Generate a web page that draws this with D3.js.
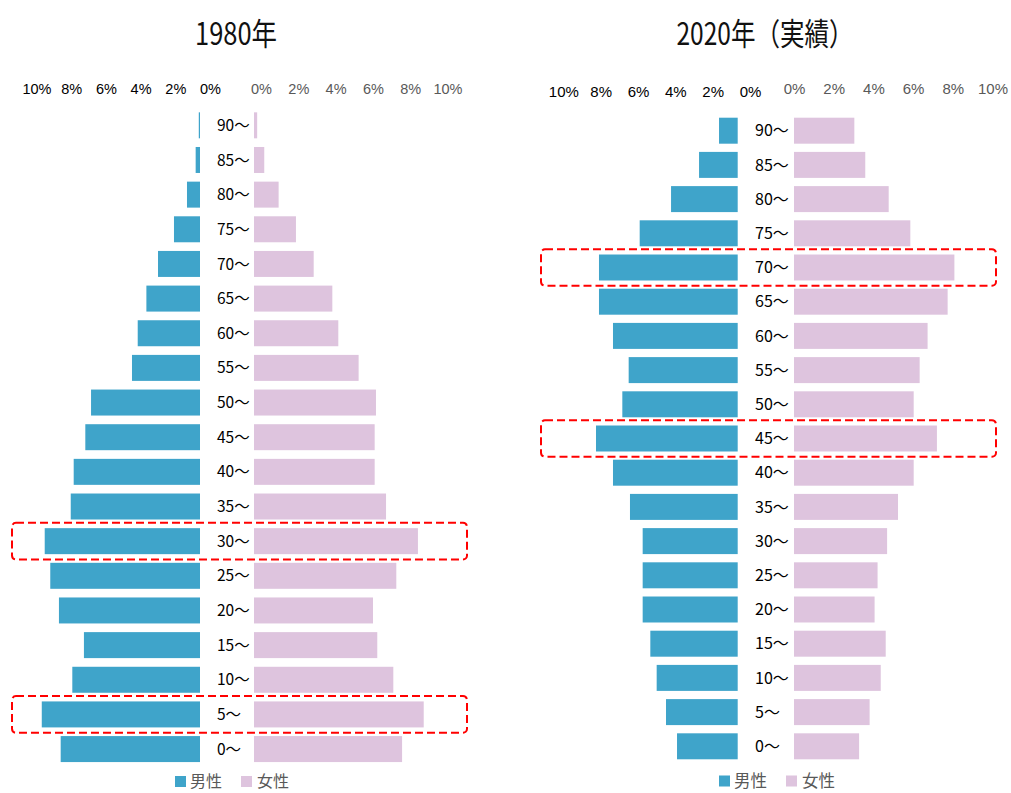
<!DOCTYPE html>
<html>
<head>
<meta charset="utf-8">
<script src="https://cdn.jsdelivr.net/npm/d3@7"></script>
<style>
  body { margin: 0; background: #fff; }
  svg { display: block; font-family: "Noto Sans CJK JP", "Noto Sans", sans-serif; }
</style>
</head>
<body>
<script>
// 年齢階級（上から）
var ages = ["90～", "85～", "80～", "75～", "70～", "65～", "60～", "55～", "50～", "45～",
            "40～", "35～", "30～", "25～", "20～", "15～", "10～", "5～", "0～"];

// 1980年 構成比(%)
var male1980   = [0.07, 0.25, 0.75, 1.5, 2.42, 3.09, 3.59, 3.92, 6.28, 6.61,
                  7.28, 7.45, 8.95, 8.63, 8.13, 6.69, 7.36, 9.12, 8.03];
var female1980 = [0.17, 0.55, 1.32, 2.25, 3.2, 4.2, 4.52, 5.61, 6.54, 6.47,
                  6.47, 7.08, 8.79, 7.63, 6.38, 6.61, 7.47, 9.1, 7.94];

// 2020年（実績） 構成比(%)
var male2020   = [1.0, 2.07, 3.57, 5.25, 7.43, 7.43, 6.68, 5.84, 6.18, 7.59,
                  6.68, 5.77, 5.09, 5.09, 5.09, 4.68, 4.34, 3.84, 3.25];
var female2020 = [3.04, 3.59, 4.77, 5.86, 8.08, 7.74, 6.73, 6.33, 6.03, 7.2,
                  6.03, 5.24, 4.69, 4.21, 4.06, 4.62, 4.37, 3.81, 3.28];

var ticks = [0, 2, 4, 6, 8, 10];
var highlight1980 = ["30～", "5～"];
var highlight2020 = ["70～", "45～"];

var maleColor = "#3fa4ca", femaleColor = "#dec4de";

var svg = d3.select("body").append("svg")
    .attr("width", 1011)
    .attr("height", 793);

var panels = [
  { title: "1980年", titleX: 236, titleW: 82, male: male1980, female: female1980, hl: highlight1980,
    maleZero: 200, maleK: 17.35, femaleZero: 254, femaleK: 18.65,
    yRange: [108, 766.4], pad: 0.25, labelX: 217, labelSize: 15.5,
    maleTickY: 89, femaleTickY: 89, maleDx: 10, femaleDx: 7, tickSize: 14.5,
    boxX: [12, 467], legX: 175, legY: 781.5, legSize: 16 },
  { title: "2020年（実績）", titleX: 765, titleW: 177, male: male2020, female: female2020, hl: highlight2020,
    maleZero: 737.7, maleK: 18.67, femaleZero: 794, femaleK: 19.85,
    yRange: [113.6, 763.4], pad: 0.24, labelX: 755, labelSize: 16,
    maleTickY: 92, femaleTickY: 89, maleDx: 12.3, femaleDx: 0, tickSize: 15,
    boxX: [541, 996], legX: 719, legY: 781, legSize: 16.5 }
];

panels.forEach(function (p) {
    var g = svg.append("g");

    var xm = d3.scaleLinear().domain([0, 10]).range([p.maleZero, p.maleZero - 10 * p.maleK]);
    var xf = d3.scaleLinear().domain([0, 10]).range([p.femaleZero, p.femaleZero + 10 * p.femaleK]);
    var y = d3.scaleBand().domain(ages).range(p.yRange)
        .paddingInner(p.pad).paddingOuter(p.pad / 2);

    // タイトル
    g.append("text")
        .attr("x", p.titleX - p.titleW / 2)
        .attr("y", 45)
        .attr("textLength", p.titleW)
        .attr("lengthAdjust", "spacingAndGlyphs")
        .style("font-size", "31px")
        .style("fill", "#111")
        .text(p.title);

    // 軸ラベル（男性）
    var axM = g.append("g")
        .attr("transform", "translate(" + p.maleDx + "," + p.maleTickY + ")")
        .call(d3.axisTop(xm).tickValues(ticks).tickSize(0).tickFormat(function (d) { return d + "%"; }));
    axM.select(".domain").remove();
    axM.selectAll("text")
        .attr("y", 0).attr("dy", "0.35em")
        .style("font-size", p.tickSize + "px")
        .style("font-family", "inherit")
        .style("fill", "#000");

    // 軸ラベル（女性）
    var axF = g.append("g")
        .attr("transform", "translate(" + p.femaleDx + "," + p.femaleTickY + ")")
        .call(d3.axisTop(xf).tickValues(ticks).tickSize(0).tickFormat(function (d) { return d + "%"; }));
    axF.select(".domain").remove();
    axF.selectAll("text")
        .attr("y", 0).attr("dy", "0.35em")
        .style("font-size", p.tickSize + "px")
        .style("font-family", "inherit")
        .style("fill", "#595959");

    // 男性バー
    g.selectAll(".m").data(p.male).enter().append("rect")
        .attr("x", function (d) { return xm(d); })
        .attr("y", function (d, i) { return y(ages[i]); })
        .attr("width", function (d) { return xm(0) - xm(d); })
        .attr("height", y.bandwidth())
        .style("fill", maleColor);

    // 女性バー
    g.selectAll(".f").data(p.female).enter().append("rect")
        .attr("x", xf(0))
        .attr("y", function (d, i) { return y(ages[i]); })
        .attr("width", function (d) { return xf(d) - xf(0); })
        .attr("height", y.bandwidth())
        .style("fill", femaleColor);

    // 年齢ラベル
    g.selectAll(".age").data(ages).enter().append("text")
        .attr("x", p.labelX)
        .attr("y", function (d) { return y(d) + y.bandwidth() / 2; })
        .attr("dy", "0.36em")
        .style("font-size", p.labelSize + "px")
        .style("fill", "#000")
        .text(function (d) { return d; });

    // 強調枠
    g.selectAll(".hl").data(p.hl).enter().append("rect")
        .attr("x", p.boxX[0])
        .attr("y", function (d) { return y(d) + y.bandwidth() / 2 - y.step() * 0.53; })
        .attr("width", p.boxX[1] - p.boxX[0])
        .attr("height", y.step() * 1.06)
        .attr("rx", 4)
        .style("fill", "none")
        .style("stroke", "#ff0000")
        .style("stroke-width", 2)
        .style("stroke-dasharray", "8,4");

    // 凡例
    var sq = 11;
    var leg = g.append("g").attr("transform", "translate(" + p.legX + "," + p.legY + ")");
    leg.append("rect").attr("x", 0).attr("y", -sq / 2).attr("width", sq).attr("height", sq).style("fill", maleColor);
    leg.append("text").attr("x", sq + 4).attr("dy", "0.36em")
        .style("font-size", p.legSize + "px").style("fill", "#595959").text("男性");
    var fx = p.legSize * 2 + sq + 4 + 19;
    leg.append("rect").attr("x", fx).attr("y", -sq / 2).attr("width", sq).attr("height", sq).style("fill", femaleColor);
    leg.append("text").attr("x", fx + sq + 5).attr("dy", "0.36em")
        .style("font-size", p.legSize + "px").style("fill", "#595959").text("女性");
});
</script>
</body>
</html>
